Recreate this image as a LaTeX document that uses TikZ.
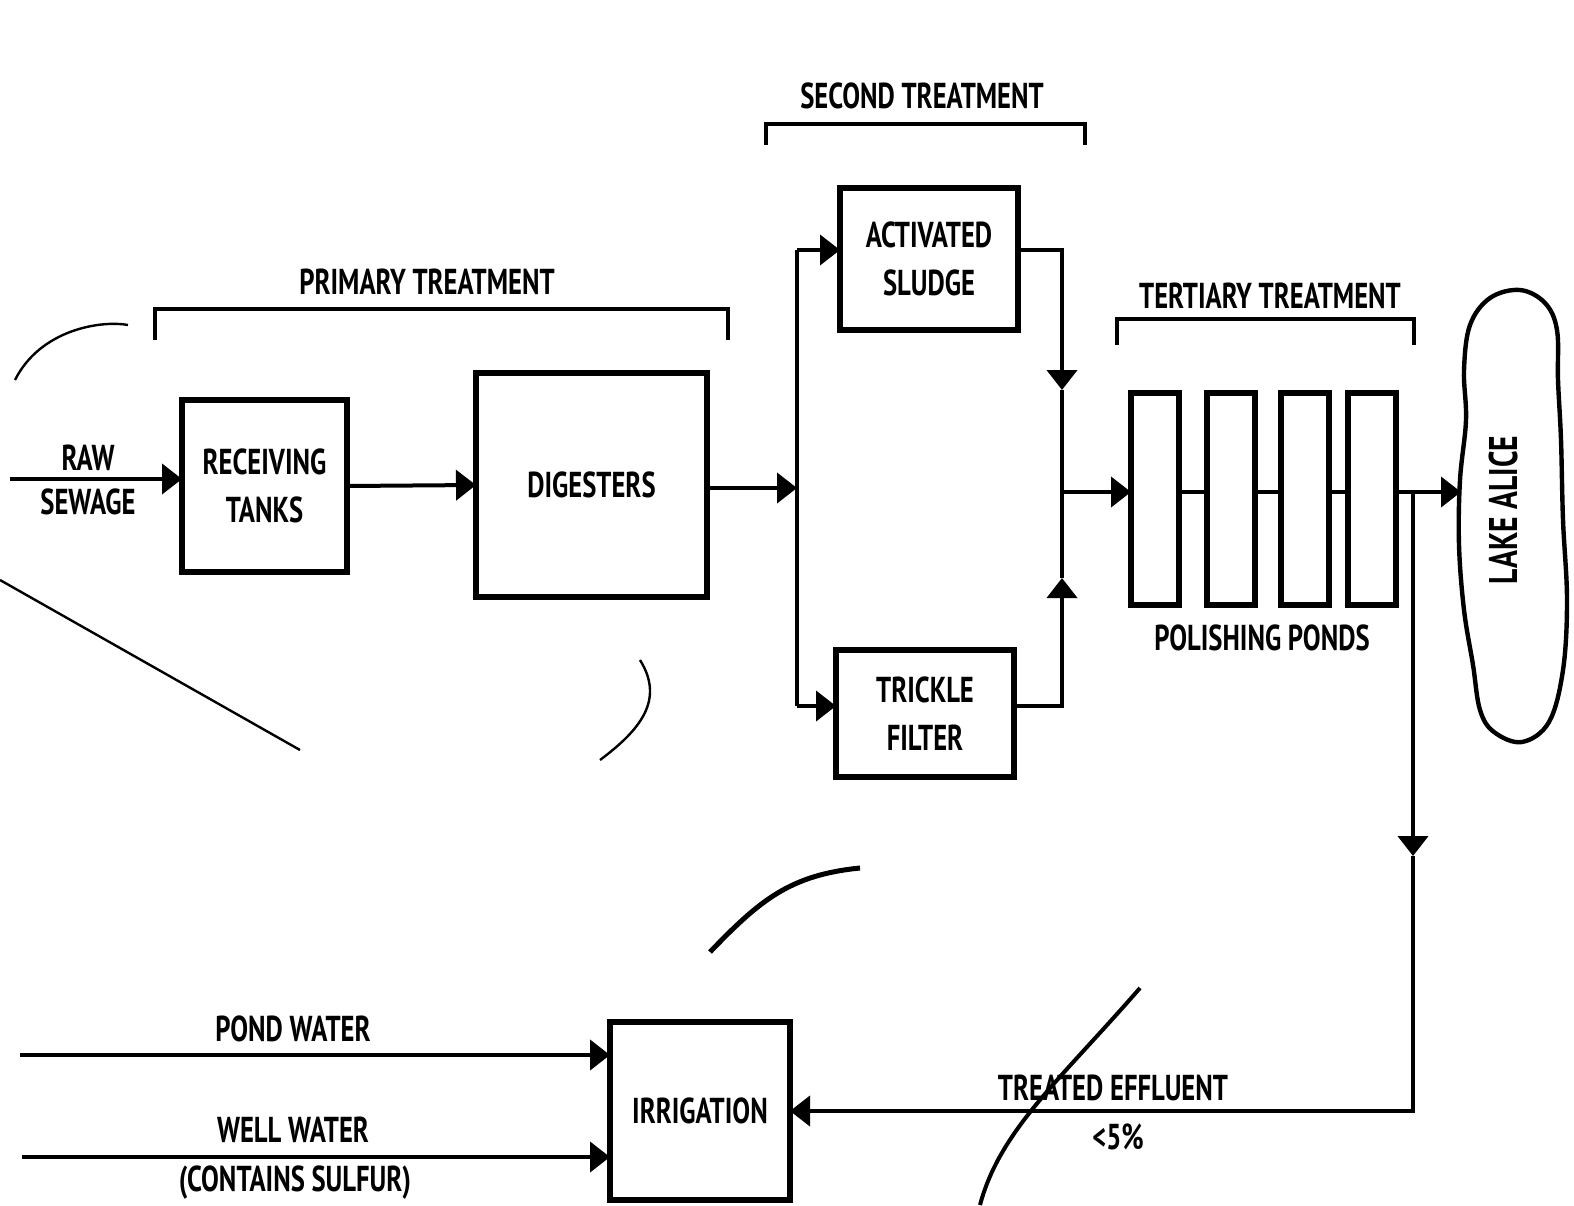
\documentclass[tikz,border=0pt]{standalone}
\usepackage{fontspec}
\setmainfont{PT Sans}[FakeStretch=0.74]
\usetikzlibrary{arrows.meta}
\begin{document}
\begin{tikzpicture}[x=0.5pt,y=-0.5pt,
  box/.style={draw,line width=3pt,inner sep=0pt,outer sep=0pt,align=center,font=\fontsize{18}{24}\selectfont\bfseries},
  pond/.style={draw,line width=3pt,inner sep=0pt,outer sep=0pt,minimum width=24pt,minimum height=106pt},
  conn/.style={line width=2pt},
  arr/.style={line width=2pt,-{Triangle[length=10pt,width=15pt]}},
  brack/.style={line width=2pt},
  lbl/.style={font=\fontsize{18}{22}\selectfont\bfseries,inner sep=0pt},
  noise/.style={line width=1.2pt}]
\useasboundingbox (0,0) rectangle (1574,1205);
\fill[white] (0,0) rectangle (1574,1205);

% boxes
\node[box,minimum width=82.5pt,minimum height=86pt] (recv) at (264.5,486) {RECEIVING\\TANKS};
\node[box,minimum width=115.5pt,minimum height=112pt] (dig) at (591.5,485) {DIGESTERS};
\node[box,minimum width=89pt,minimum height=71pt] (act) at (929,259) {ACTIVATED\\SLUDGE};
\node[box,minimum width=89pt,minimum height=63.5pt] (trk) at (925,713.5) {TRICKLE\\FILTER};
\node[pond] (p1) at (1155,499) {};
\node[pond] (p2) at (1230.5,499) {};
\node[pond] (p3) at (1305,499) {};
\node[pond] (p4) at (1372,499) {};
\node[box,minimum width=90pt,minimum height=89pt] (irr) at (700,1111) {IRRIGATION};

% lake
\draw[line width=2.2pt] plot[smooth cycle,tension=0.6] coordinates {
 (1520,290) (1545,303) (1557,330) (1558,380) (1561,440) (1563,520) (1567,600)
 (1563,670) (1549,722) (1522,742) (1494,732) (1480,710) (1473,665) (1464,610)
 (1459,545) (1460,480) (1466,420) (1464,370) (1470,325) (1490,298)};
\node[lbl,rotate=90,font=\fontsize{20}{24}\selectfont\bfseries] (lake) at (1503,510) {LAKE ALICE};
\coordinate (lakein) at (1461,492);

% labels
\node[lbl] (raw) at (88,458) {RAW};
\node[lbl] (sew) at (88,502) {SEWAGE};
\node[lbl] (prim) at (427,282) {PRIMARY TREATMENT};
\node[lbl] (sec) at (922,96) {SECOND TREATMENT};
\node[lbl] (tert) at (1270,296) {TERTIARY TREATMENT};
\node[lbl] (pol) at (1262,638) {POLISHING PONDS};
\node[lbl] (pwl) at (293,1029) {POND WATER};
\node[lbl] (wwl) at (293,1130) {WELL WATER};
\node[lbl] (csl) at (295,1183) {(CONTAINS SULFUR)};
\node[lbl] (tel) at (1113,1088) {TREATED EFFLUENT};
\node[lbl] (pct) at (1118,1137) {<5\%};

% brackets
\draw[brack] (155,340) -- (155,309) -- (728,309) -- (728,340);
\draw[brack] (766,145) -- (766,124) -- (1085,124) -- (1085,145);
\draw[brack] (1117,345) -- (1117,319) -- (1414,319) -- (1414,345);

% connectors
\coordinate (rawin) at (10,479);
\draw[arr] (rawin) -- (rawin -| recv.west);
\draw[arr] (recv.east) -- (dig.west);
\coordinate (split) at (797,488);
\coordinate (s1) at (797,250);
\coordinate (s2) at (797,706);
\draw[arr] (dig.east |- split) -- (split);
\draw[conn] (s1) -- (s2);
\draw[arr] (s1) -- (act.west |- s1);
\draw[arr] (s2) -- (trk.west |- s2);
\coordinate (j1) at (1062,250);
\coordinate (j2) at (1062,706);
\coordinate (a1) at (1062,390);
\coordinate (a2) at (1062,578);
\coordinate (m) at (1062,492);
\draw[arr] (act.east |- j1) -- (j1) -- (a1);
\draw[conn] (a1) -- (m);
\draw[arr] (trk.east |- j2) -- (j2) -- (a2);
\draw[conn] (a2) -- (m);
\draw[arr] (m) -- (p1.west |- m);
\draw[conn] (p1.east |- m) -- (p2.west |- m);
\draw[conn] (p2.east |- m) -- (p3.west |- m);
\draw[conn] (p3.east |- m) -- (p4.west |- m);
\draw[arr] (p4.east |- m) -- (lakein);
\coordinate (br) at (1413,492);
\coordinate (a3) at (1413,856);
\coordinate (cr) at (1413,1111);
\draw[arr] (br) -- (a3);
\draw[arr] (a3) -- (cr) -- (irr.east |- cr);
\coordinate (pw) at (20,1055);
\coordinate (ww) at (22,1157);
\draw[arr] (pw) -- (pw -| irr.west);
\draw[arr] (ww) -- (ww -| irr.west);

% stray marks of the scan
\draw[noise] (0,580) -- (300,750);
\draw[noise,line width=2pt] (1140,988) .. controls (1060,1080) and (1000,1130) .. (980,1205);
\draw[noise,line width=2.5pt] (710,952) .. controls (760,900) and (790,875) .. (860,868);
\draw[noise] (640,660) .. controls (665,700) and (640,730) .. (600,760);
\draw[noise] (15,380) .. controls (40,330) and (100,320) .. (128,325);
\end{tikzpicture}
\end{document}
